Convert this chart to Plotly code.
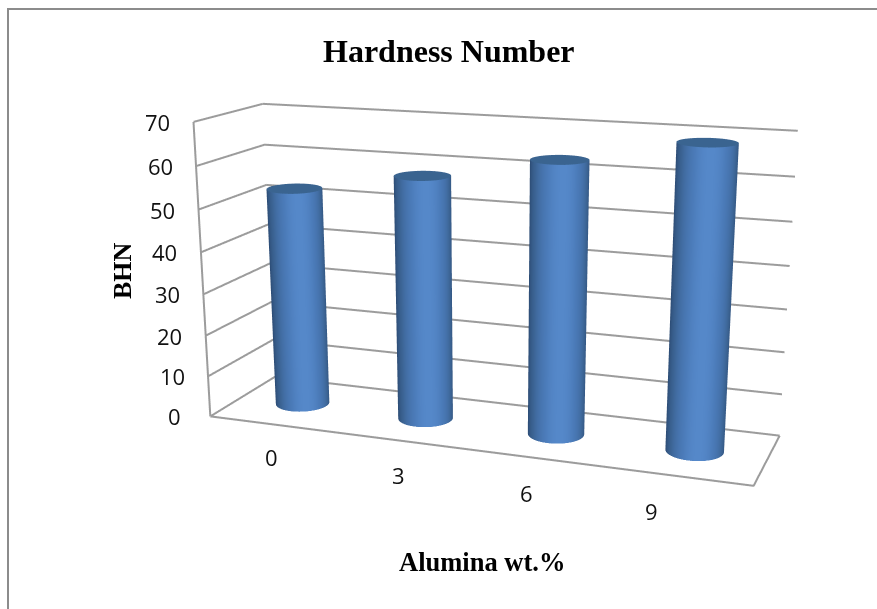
import numpy as np
import plotly.graph_objects as go

W, H = 877, 609
WF, HF, OFF = 980, 1248, 270   # scene larger than the window: gives the chart's long lens
categories = ["0", "3", "6", "9"]
values = [53, 58, 63.5, 69]
z_ticks = [0, 10, 20, 30, 40, 50, 60, 70]
cat_xshift = [0, 0, -7, -26]
cat_yshift = [-33, -35, -35, -35]

ex, ey, ez = 1.7436, -4.8159, 1.2877
cx, cz = 0.0007, -0.2689
roll = -0.0018
ax_, ay_, az_ = 2.0, 0.5042, 1.0794

n = len(categories)
ZMAX = z_ticks[-1]
GRID = "#9c9c9c"
rx = 0.2
ry = rx*(ax_/n)/ay_
fig = go.Figure()

def line3d(x, y, z):
    fig.add_trace(go.Scatter3d(x=x, y=y, z=z, mode="lines", line=dict(color=GRID, width=4),
                               hoverinfo="skip", showlegend=False))
for z in z_ticks:
    line3d([0, 0, n], [0, 1, 1], [z, z, z])
line3d([0, 0], [0, 0], [0, ZMAX])
line3d([0, n, n], [0, 0, 1], [0, 0, 0])

th = np.linspace(0, 2*np.pi, 97)
NOLIGHT = dict(ambient=1, diffuse=0, specular=0, fresnel=0, roughness=1)
for i, v in enumerate(values):
    c = i+0.5
    pos = (c/n-.5)*ax_
    az = np.arctan2(ey, ex-pos)
    X = np.array([c+rx*np.cos(th)]*2)
    Y = np.array([0.5+ry*np.sin(th)]*2)
    Z = np.array([np.zeros_like(th), np.full_like(th, v)])
    t = np.clip(np.cos(th-az-0.12), 0, 1)
    fig.add_trace(go.Surface(x=X, y=Y, z=Z, surfacecolor=np.array([t, t]), cmin=0, cmax=1, showscale=False,
        colorscale=[[0, "#2b4a72"], [0.5, "#3c6494"], [0.87, "#4b7bb9"], [1, "#5588c9"]],
        lighting=NOLIGHT, hoverinfo="skip"))
    R = np.array([0, 1.0])
    Xc = c+rx*np.outer(R, np.cos(th))
    Yc = 0.5+ry*np.outer(R, np.sin(th))
    Zc = np.full_like(Xc, v)
    fig.add_trace(go.Surface(x=Xc, y=Yc, z=Zc, surfacecolor=np.zeros_like(Xc), cmin=0, cmax=1, showscale=False,
        colorscale=[[0, "#3a6490"], [1, "#3a6490"]], lighting=NOLIGHT, hoverinfo="skip"))

TICK = dict(family="Open Sans", size=22, color="#111111")
ann = [dict(x=0, y=0, z=z, text=str(z), showarrow=False, xshift=-36, yshift=0, font=TICK) for z in z_ticks]
ann += [dict(x=i+0.5, y=0, z=0, text=c, showarrow=False, xshift=cat_xshift[i], yshift=cat_yshift[i], font=TICK)
        for i, c in enumerate(categories)]
axis = dict(showbackground=False, showticklabels=False, ticks="", title="", zeroline=False,
            showspikes=False, showline=False, showgrid=False)
def px(x): return x/WF
def py(y): return 1-(y+OFF)/HF
def label(x, y, text, size, **kw):
    return dict(xref="paper", yref="paper", x=px(x), y=py(y), xanchor="center", yanchor="middle", text=text,
                showarrow=False, font=dict(family="Liberation Serif", size=size, color="black"), **kw)
fig.update_layout(width=WF, height=HF, margin=dict(l=0, r=0, t=0, b=0), paper_bgcolor="white", showlegend=False,
    scene=dict(domain=dict(x=[0, 1], y=[0, 1]), aspectmode="manual", aspectratio=dict(x=ax_, y=ay_, z=az_),
        camera=dict(eye=dict(x=ex, y=ey, z=ez), center=dict(x=cx, y=0, z=cz), up=dict(x=roll, y=0, z=1),
                    projection=dict(type="perspective")),
        xaxis=dict(range=[0, n], **axis),
        yaxis=dict(range=[0, 1], **axis),
        zaxis=dict(range=[0, ZMAX], **axis),
        annotations=ann),
    shapes=[dict(type="rect", xref="paper", yref="paper", x0=px(8), x1=1, y0=0, y1=py(9),
                 line=dict(color="#8c8c8c", width=2))],
    annotations=[
        label(449, 51, "<b>Hardness Number</b>", 32),
        label(482, 562, "<b>Alumina wt.%</b>", 26.5),
        label(122, 271, "<b>BHN</b>", 26, textangle=-90),
    ])
fig.write_html("out.html", default_width=f"{WF}px", default_height=f"{HF}px", config={"displayModeBar": False},
    post_script=f"document.body.style.margin='-{OFF}px 0 0 0';document.body.style.overflow='hidden';document.documentElement.style.overflow='hidden';")
